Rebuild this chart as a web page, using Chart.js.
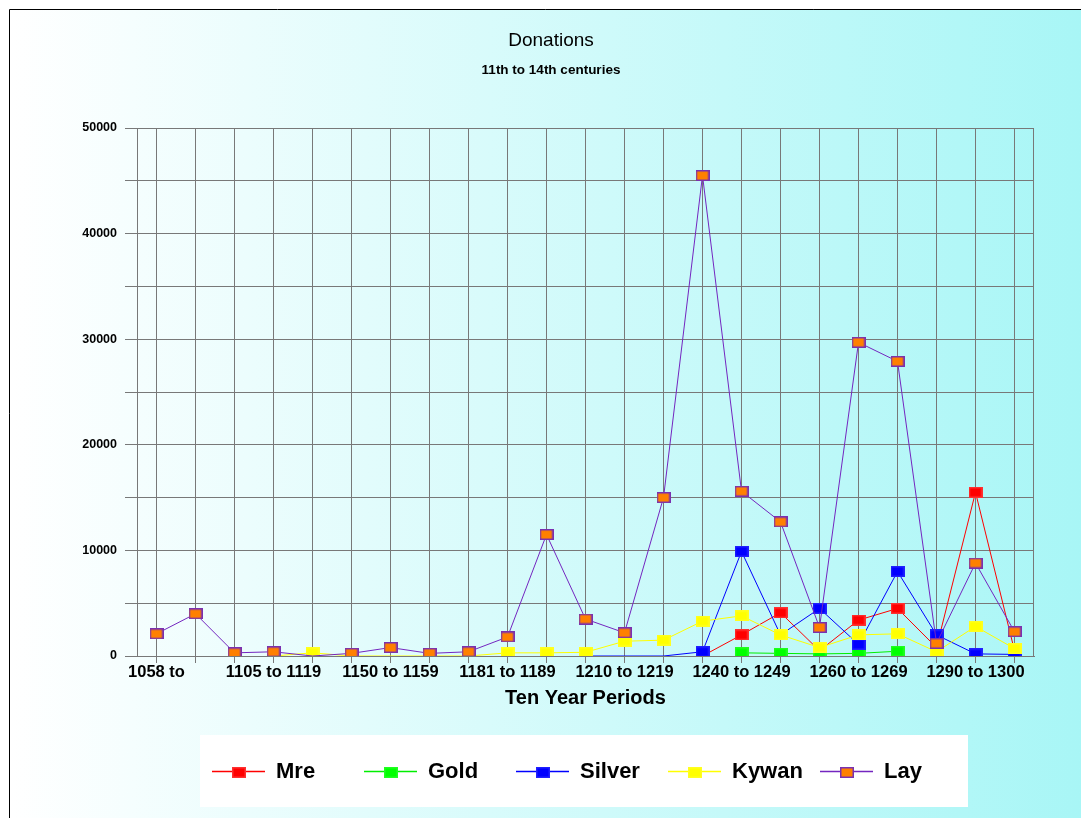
<!DOCTYPE html>
<html>
<head>
<meta charset="utf-8">
<title>Donations</title>
<script src="https://cdn.jsdelivr.net/npm/chart.js@4.4.1/dist/chart.umd.min.js"></script>
<style>
  html, body { margin: 0; padding: 0; background: #ffffff; }
  #wrap { width: 1081px; height: 818px; position: relative; }
</style>
</head>
<body>
<div id="wrap"><canvas id="chart" width="1081" height="818"></canvas></div>
<script>
// Ten-year periods (only every third period carries a printed label)
const periods = [
  '1058 to', '', '',
  '1105 to 1119', '', '',
  '1150 to 1159', '', '',
  '1181 to 1189', '', '',
  '1210 to 1219', '', '',
  '1240 to 1249', '', '',
  '1260 to 1269', '', '',
  '1290 to 1300', ''
];

// Donations per period, by kind
const mre    = [null, null, null, null, null, null, null, null, null, null, null, null, null, null,
                0, 2000, 4100, 500, 3400, 4500, 800, 15500, 500];
const gold   = [null, null, null, null, null, null, null, null, null, null, null, null, null, null, null,
                300, 250, 200, 250, 450, null, null, null];
const silver = [null, null, null, null, null, null, null, null, null, null, null,
                0, 0, 0, 400, 9900, 2000, 4500, 1100, 8000, 2000, 200, 150];
const kywan  = [null, null, null,
                0, 300, 0, 0, 0, 0, 300, 300, 350, 1400, 1500, 3300, 3800, 2000, 800, 2000, 2100, 400, 2800, 700];
const lay    = [2100, 4000, 300, 400, 0, 250, 800, 250, 400, 1800, 11500, 3500, 2200, 15000,
                45500, 15600, 12700, 2700, 29700, 27900, 1200, 8800, 2300];

const yTicks = { min: 0, max: 50000, step: 5000, labelEvery: 10000 };

const FONT = '"Liberation Sans", Arial, Helvetica, sans-serif';
const GRID = '#787878';
const TITLE_CENTER_X = 551;

// Small rectangular marker used for the points and the legend
function makeMarker(fill, stroke) {
  const w = 14, h = 11;
  const c = document.createElement('canvas');
  c.width = w; c.height = h;
  const g = c.getContext('2d');
  g.fillStyle = stroke;
  g.fillRect(0, 0, w, h);
  g.fillStyle = fill;
  g.fillRect(1.5, 1.5, w - 3, h - 3);
  return c;
}

function series(label, data, line, fill, stroke, order) {
  const marker = makeMarker(fill, stroke);
  return {
    label, data, order,
    borderColor: line,
    backgroundColor: fill,
    borderWidth: 1,
    tension: 0,
    pointStyle: marker,
    pointRadius: c => (c.raw === 0 ? 0 : 6),
    pointHoverRadius: c => (c.raw === 0 ? 0 : 6),
    _marker: marker
  };
}

const datasets = [
  series('Mre',    mre,    '#ff0000', '#ff0000', '#ff3030', 5),
  series('Gold',   gold,   '#00ee00', '#00ff00', '#20ff20', 4),
  series('Silver', silver, '#0000ff', '#0000ff', '#2020ff', 3),
  series('Kywan',  kywan,  '#ffff00', '#ffff00', '#ffff20', 2),
  series('Lay',    lay,    '#7426c0', '#ff8000', '#7a30b0', 1)
];

// Panel background with a faint border on the left and top
const panel = {
  id: 'panel',
  afterLayout(chart) {
    // centre the title and subtitle over the panel rather than the plot
    chart.boxes.forEach(b => {
      if (b.position === 'top' && b.options && b.options.text !== undefined) {
        const half = Math.min(TITLE_CENTER_X - 10, chart.width - TITLE_CENTER_X);
        b.left = TITLE_CENTER_X - half;
        b.right = TITLE_CENTER_X + half;
        b.width = 2 * half;
      }
    });
  },
  beforeDraw(chart) {
    const { ctx, width, height } = chart;
    ctx.save();
    ctx.fillStyle = '#ffffff';
    ctx.fillRect(0, 0, width, height);
    const grad = ctx.createLinearGradient(10, 0, width, 0);
    grad.addColorStop(0, '#ffffff');
    grad.addColorStop(1, '#a8f6f6');
    ctx.fillStyle = grad;
    ctx.fillRect(10, 10, width - 10, height - 10);
    ctx.strokeStyle = '#000000';
    ctx.lineWidth = 1;
    ctx.beginPath();
    ctx.moveTo(9.5, height);
    ctx.lineTo(9.5, 9.5);
    ctx.lineTo(width, 9.5);
    ctx.stroke();
    ctx.restore();
  },
  beforeDatasetsDraw(chart) {
    const { ctx, chartArea: a } = chart;
    ctx.save();
    ctx.strokeStyle = GRID;
    ctx.lineWidth = 1;
    ctx.strokeRect(Math.round(a.left) + 0.5, Math.round(a.top) + 0.5,
                   Math.round(a.right - a.left) - 1, Math.round(a.bottom - a.top));
    ctx.restore();
  }
};

// Legend in a white box below the axis, items on an even pitch
const boxLegend = {
  id: 'boxLegend',
  afterDraw(chart) {
    const { ctx } = chart;
    ctx.save();
    ctx.fillStyle = '#ffffff';
    ctx.fillRect(200, 735, 768, 72);
    const cy = 771;
    chart.data.datasets.forEach((ds, i) => {
      const x0 = 212 + 152 * i;
      ctx.strokeStyle = ds.borderColor;
      ctx.lineWidth = 1.5;
      ctx.beginPath();
      ctx.moveTo(x0, cy + 0.5);
      ctx.lineTo(x0 + 53, cy + 0.5);
      ctx.stroke();
      const m = ds._marker;
      ctx.drawImage(m, Math.round(x0 + 26.5 - m.width / 2), Math.round(cy - m.height / 2) + 1);
      ctx.fillStyle = '#000000';
      ctx.font = 'bold 22px ' + FONT;
      ctx.textBaseline = 'middle';
      ctx.textAlign = 'left';
      ctx.fillText(ds.label, x0 + 64, cy + 1);
    });
    ctx.restore();
  }
};

new Chart(document.getElementById('chart'), {
  type: 'line',
  data: { labels: periods, datasets },
  plugins: [panel, boxLegend],
  options: {
    responsive: false,
    animation: false,
    devicePixelRatio: 1,
    layout: { padding: { left: 10, right: 47, top: 10, bottom: 108 } },
    plugins: {
      legend: { display: false },
      tooltip: { enabled: false },
      title: {
        display: true,
        text: 'Donations',
        color: '#000000',
        font: { family: FONT, size: 19, weight: 'normal' },
        padding: { top: 19, bottom: 0 }
      },
      subtitle: {
        display: true,
        text: '11th to 14th centuries',
        color: '#000000',
        font: { family: FONT, size: 13.5, weight: 'bold' },
        padding: { top: 10, bottom: 50 }
      }
    },
    scales: {
      x: {
        offset: true,
        grid: { color: GRID, lineWidth: 1, offset: false, drawTicks: true, tickLength: 7 },
        border: { color: GRID, width: 1 },
        ticks: {
          autoSkip: false, maxRotation: 0, minRotation: 0, padding: 0,
          color: '#000000',
          font: { family: FONT, size: 16.5, weight: 'bold' }
        },
        title: {
          display: true,
          text: 'Ten Year Periods',
          color: '#000000',
          font: { family: FONT, size: 20, weight: 'bold' },
          padding: { top: 0, bottom: 0 }
        },
        afterFit(scale) { scale.height = 54; }
      },
      y: {
        min: yTicks.min,
        max: yTicks.max,
        grid: { color: GRID, lineWidth: 1, drawTicks: true, tickLength: 12 },
        border: { color: GRID, width: 1 },
        ticks: {
          stepSize: yTicks.step,
          padding: 8,
          color: '#000000',
          font: { family: FONT, size: 12.5, weight: 'bold' },
          callback: v => (v % yTicks.labelEvery === 0 ? String(v) : '')
        },
        afterFit(scale) { scale.width = 127; }
      }
    }
  }
});
</script>
</body>
</html>
